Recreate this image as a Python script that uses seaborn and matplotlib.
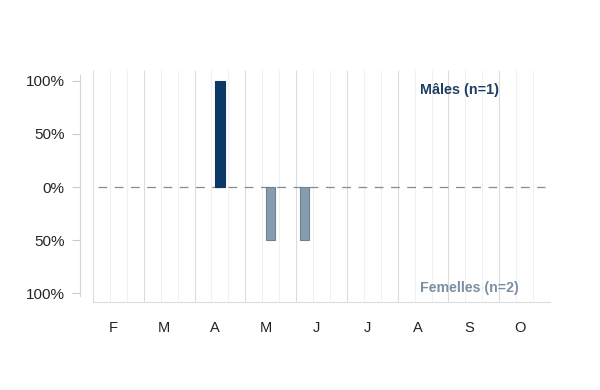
import numpy as np
import pandas as pd
import matplotlib
matplotlib.use("Agg")
import matplotlib.pyplot as plt
import seaborn as sns

# ---- data ----
months = ["F", "M", "A", "M", "J", "J", "A", "S", "O"]
decades_per_month = 3
male_decades = [7]          # April, 2nd decade
male_values = [1.0]         # 100 %
female_decades = [10, 12]   # May 2nd decade, June 1st decade
female_values = [-0.5, -0.5]
ytick_values = [1.0, 0.5, 0.0, -0.5, -1.0]
ytick_labels = ["100%", "50%", "0%", "50%", "100%"]
male_label = "Mâles (n=1)"
female_label = "Femelles (n=2)"

male_color = "#0b3864"
female_color = "#869db0"
female_edge = "#6a8396"

sns.set_theme(style="white")
plt.rcParams["font.family"] = ["Liberation Sans", "DejaVu Sans"]

df = pd.DataFrame({
    "pos": [d + 0.5 for d in male_decades] + [d + 0.5 for d in female_decades],
    "val": male_values + female_values,
    "sex": ["M"] * len(male_decades) + ["F"] * len(female_decades),
})

fig = plt.figure(figsize=(6, 3.9), dpi=100)
ax = fig.add_axes([93 / 600, 1 - 302 / 390, 457 / 600, 232 / 390])

n_dec = len(months) * decades_per_month
# min spacing of positions is 2 -> width in decades = 0.55
sns.barplot(data=df, x="pos", y="val", hue="sex", native_scale=True,
            dodge=False, palette={"M": male_color, "F": female_color},
            saturation=1, width=0.55 / 2, linewidth=0.8, legend=False,
            ax=ax, zorder=3)
for cont in ax.containers:
    for p in cont:
        fc = matplotlib.colors.to_hex(p.get_facecolor())
        p.set_edgecolor(male_color if fc == male_color else female_edge)

ax.set_xlim(0, n_dec)
ax.set_ylim(-1.08, 1.10)

# grid lines
dec_lines = [d for d in range(1, n_dec) if d % decades_per_month]
ax.vlines(dec_lines, -1.08, 1.10, color="#f0f0f0", lw=0.8, zorder=0)
month_bounds = list(range(0, n_dec + 1, decades_per_month))
ax.vlines(month_bounds, -1.08, 1.10, color="#dcdcdc", lw=0.8, zorder=0)

# zero line
ax.axhline(0, xmin=0.01, xmax=0.99, color="#8a8a8a", lw=0.9,
           dashes=(7, 6), zorder=2)

# x ticks
label_pos = [i * decades_per_month + 1.2 for i in range(len(months))]
ax.set_xticks(label_pos)
ax.set_xticklabels(months, fontsize=10.5, color="#222222")
ax.tick_params(axis="x", which="major", length=0, pad=14)
ax.set_xticks(month_bounds, minor=True)
ax.tick_params(axis="x", which="minor", length=6, color="#d5d5d5", width=0.8)
ax.set_xlabel("")

# y ticks
ax.set_yticks(ytick_values)
ax.set_yticklabels(ytick_labels, fontsize=10, color="#222222")
ax.tick_params(axis="y", length=6, color="#cccccc", width=0.8, pad=5, left=True)
ax.set_ylabel("")

for s in ["top", "right"]:
    ax.spines[s].set_visible(False)
ax.spines["bottom"].set_color("#dcdcdc")
ax.spines["bottom"].set_linewidth(0.8)
ax.spines["left"].set_position(("outward", 9.4))
ax.spines["left"].set_bounds(-1.02, 1.05)
ax.spines["left"].set_color("#d5d5d5")
ax.spines["left"].set_linewidth(0.8)
ax.grid(False)

ax.text(19.3, 0.91, male_label, color="#1d3f66", fontsize=10.4,
        fontweight="bold", ha="left", va="center")
ax.text(19.3, -0.95, female_label, color="#7b8fa3", fontsize=10.2,
        fontweight="bold", ha="left", va="center")

fig.savefig("out.png", dpi=100)
